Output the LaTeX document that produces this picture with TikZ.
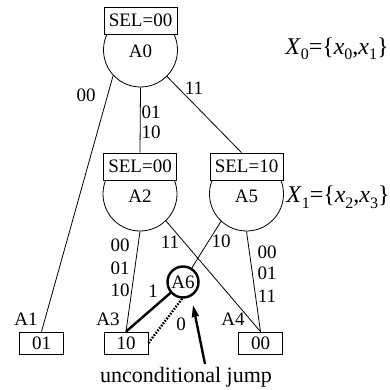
\documentclass[tikz,border=0pt]{standalone}
\usepackage{fontspec}
\setmainfont{Liberation Serif}
\usetikzlibrary{calc,arrows.meta}
\newcommand\lsub[1]{\raisebox{-0.5ex}{\fontsize{16}{16}\selectfont #1}}
\begin{document}
\begin{tikzpicture}[x=1pt,y=-1pt,
  every node/.style={font=\fontsize{19}{22}\selectfont, inner sep=0pt},
  thin line/.style={line width=0.8pt},
  selbox/.style={draw, line width=0.8pt, minimum width=73pt, minimum height=27pt},
  valbox/.style={draw, line width=0.8pt, minimum width=44pt, minimum height=22pt},
  semic/.style={circle, draw, line width=0.8pt, minimum size=74pt},
  bold line/.style={line width=2.4pt},
  setlbl/.style={font=\fontsize{24}{26}\selectfont}]
\useasboundingbox (0,0) rectangle (390,390);

% A0
\node[selbox] (S0) at (140.5,20.5) {SEL=00};
\begin{scope}
  \clip (0,34.5) rectangle (390,390);
  \node[semic] (C0) at (140.5,50) {};
\end{scope}
\node (L0) at (140.5,51) {A0};

% A2
\node[selbox] (S2) at (140,166.5) {SEL=00};
\begin{scope}
  \clip (0,180.5) rectangle (390,390);
  \node[semic] (C2) at (140,194) {};
\end{scope}
\node (L2) at (140,196) {A2};

% A5
\node[selbox] (S5) at (246.5,166.5) {SEL=10};
\begin{scope}
  \clip (0,180.5) rectangle (390,390);
  \node[semic] (C5) at (246.5,194) {};
\end{scope}
\node (L5) at (246.5,196) {A5};

% A6
\node[circle, draw, bold line, minimum size=31pt] (A6) at (183,282) {A6};

% leaves
\node[valbox] (B1) at (41.5,343) {01};
\node[valbox] (B3) at (126,343) {10};
\node[valbox] (B4) at (260.5,343) {00};
\node (LA1) at (26,319) {A1};
\node (LA3) at (108,319) {A3};
\node (LA4) at (233,319) {A4};

% connectors
\draw[thin line] (C0.-137) -- (B1.north);
\draw[thin line] (C0.south) -- (S2.north);
\draw[thin line] (C0.-45) -- ($(S5.north)+(-5,0)$);
\draw[thin line] (C2.south) -- (B3.north);
\draw[thin line] (C2.-46) -- (B4.north);
\draw[thin line] (C5.-133) -- (A6);
\draw[thin line] (C5.south) -- (B4.north);
\draw[bold line] (B3.north) -- (A6);
\draw[line width=2.4pt, dash pattern=on 1.6pt off 1.4pt] (A6.-93) -- (B3.east);

% arrow
\coordinate (jt) at (205,364);
\coordinate (jh) at (193,305);
\draw[line width=2.4pt, -{Stealth[length=12pt,width=7pt,inset=1pt]}] (jt) -- (jh);
\node[font=\fontsize{22}{24}\selectfont] (UJ) at (186,377) {unconditional jump};

% edge labels
\node at (86,95) {00};
\node at (151,112) {01};
\node at (151,132) {10};
\node at (194,88) {11};
\node at (120,245) {00};
\node at (120,268) {01};
\node at (120,290) {10};
\node at (170,242) {11};
\node at (153,291) {1};
\node at (181,324) {0};
\node at (221,241) {10};
\node at (267,252) {00};
\node at (267,273) {01};
\node at (267,296) {11};

% set labels
\node[setlbl] (X0) at (337,49) {\textit{X}\lsub{0}=\{\textit{x}\lsub{0},\textit{x}\lsub{1}\}};
\node[setlbl] (X1) at (338,197) {\textit{X}\lsub{1}=\{\textit{x}\lsub{2},\textit{x}\lsub{3}\}};
\end{tikzpicture}
\end{document}
